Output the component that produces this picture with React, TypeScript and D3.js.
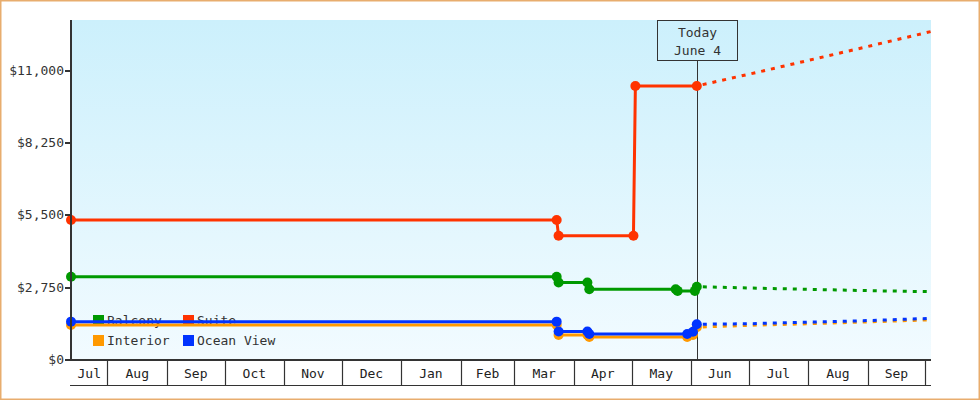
import React, { useRef, useEffect } from "react";
import * as d3 from "d3";

const width = 980;
const height = 400;
const margin = { top: 20, right: 49, bottom: 40, left: 71 };
const font = "'DejaVu Sans Mono', 'Liberation Mono', monospace";

const domainStart = "2022-07-13";
const domainEnd = "2023-10-04";
const todayDate = "2023-06-04";
const todayLabel = ["Today", "June 4"];

const yTicks = [0, 2750, 5500, 8250, 11000];
const yMax = 12940;

const seriesNames = ["Balcony", "Suite", "Interior", "Ocean View"];
const seriesColors = ["#009900", "#ff3300", "#ff9900", "#0033ff"];

// price history (solid)
const suiteDates = ["2022-07-13", "2023-03-23", "2023-03-24", "2023-05-02", "2023-05-03", "2023-06-04"];
const suiteValues = [5330, 5330, 4730, 4730, 10430, 10430];

const balconyDates = ["2022-07-13", "2023-03-23", "2023-03-24", "2023-04-08", "2023-04-09", "2023-05-24", "2023-05-25", "2023-06-03", "2023-06-04"];
const balconyValues = [3170, 3170, 2950, 2950, 2690, 2690, 2630, 2630, 2790];

const oceanDates = ["2022-07-13", "2023-03-23", "2023-03-24", "2023-04-08", "2023-04-09", "2023-05-30", "2023-06-02", "2023-06-04"];
const oceanValues = [1460, 1460, 1085, 1085, 990, 990, 1075, 1360];

const interiorDates = ["2022-07-13", "2023-03-23", "2023-03-24", "2023-04-08", "2023-04-09", "2023-05-30", "2023-06-02", "2023-06-04"];
const interiorValues = [1330, 1330, 950, 950, 875, 875, 950, 1250];

// forecast (dashed)
const forecastDates = ["2023-06-04", "2023-07-01", "2023-08-01", "2023-09-01", "2023-10-04"];
const suiteForecast = [10430, 10875, 11400, 11930, 12500];
const balconyForecast = [2790, 2740, 2690, 2640, 2600];
const interiorForecast = [1250, 1320, 1380, 1450, 1530];
const oceanForecast = [1360, 1380, 1440, 1500, 1585];

type Pt = { date: Date; value: number };

const parse = d3.timeParse("%Y-%m-%d");
const toPts = (dates: string[], values: number[]): Pt[] =>
  dates.map((d, i) => ({ date: parse(d) as Date, value: values[i] }));

const App: React.FC = () => {
  const svgRef = useRef<SVGSVGElement | null>(null);

  useEffect(() => {
    if (!svgRef.current) return;
    const svg = d3.select(svgRef.current);
    svg.selectAll("*").remove();

    const x0 = margin.left;
    const x1 = width - margin.right;
    const y0 = height - margin.bottom;
    const y1 = margin.top;

    const x = d3
      .scaleTime()
      .domain([parse(domainStart) as Date, parse(domainEnd) as Date])
      .range([x0, x1]);
    const y = d3.scaleLinear().domain([0, yMax]).range([y0, y1]);

    const defs = svg.append("defs");
    const grad = defs
      .append("linearGradient")
      .attr("id", "bg-grad")
      .attr("x1", 0)
      .attr("x2", 0)
      .attr("y1", 0)
      .attr("y2", 1);
    grad.append("stop").attr("offset", "0%").attr("stop-color", "#ccf0fc");
    grad.append("stop").attr("offset", "100%").attr("stop-color", "#f2fbff");
    defs
      .append("clipPath")
      .attr("id", "plot-clip")
      .append("rect")
      .attr("x", x0)
      .attr("y", y1)
      .attr("width", x1 - x0)
      .attr("height", y0 - y1);

    svg.append("rect").attr("width", width).attr("height", height).attr("fill", "#fff");

    svg
      .append("rect")
      .attr("x", x0)
      .attr("y", y1)
      .attr("width", x1 - x0)
      .attr("height", y0 - y1)
      .attr("fill", "url(#bg-grad)");

    // legend (sits under the lines)
    const legend = svg.append("g").attr("font-family", font).attr("font-size", 13);
    seriesNames.forEach((name, i) => {
      const col = i % 2;
      const row = Math.floor(i / 2);
      const lx = 93 + col * 90;
      const ly = 315 + row * 20;
      legend
        .append("rect")
        .attr("x", lx)
        .attr("y", ly)
        .attr("width", 11)
        .attr("height", 11)
        .attr("fill", seriesColors[i]);
      legend
        .append("text")
        .attr("x", lx + 14)
        .attr("y", ly + 10)
        .attr("fill", "#333")
        .text(name);
    });

    // today marker
    const tx = Math.round(x(parse(todayDate) as Date)) + 0.5;
    svg
      .append("line")
      .attr("x1", tx)
      .attr("x2", tx)
      .attr("y1", 60)
      .attr("y2", y0)
      .attr("stroke", "#333")
      .attr("stroke-width", 1);
    svg
      .append("rect")
      .attr("x", tx - 40)
      .attr("y", y1 + 0.5)
      .attr("width", 80)
      .attr("height", 40)
      .attr("fill", "none")
      .attr("stroke", "#333");
    todayLabel.forEach((t, i) => {
      svg
        .append("text")
        .attr("x", tx)
        .attr("y", 37 + i * 18)
        .attr("text-anchor", "middle")
        .attr("font-family", font)
        .attr("font-size", 13)
        .attr("fill", "#333")
        .text(t);
    });

    const line = d3
      .line<Pt>()
      .x((d) => x(d.date))
      .y((d) => y(d.value));

    const series = [
      { color: seriesColors[2], hist: toPts(interiorDates, interiorValues), fc: toPts(forecastDates, interiorForecast) },
      { color: seriesColors[3], hist: toPts(oceanDates, oceanValues), fc: toPts(forecastDates, oceanForecast) },
      { color: seriesColors[0], hist: toPts(balconyDates, balconyValues), fc: toPts(forecastDates, balconyForecast) },
      { color: seriesColors[1], hist: toPts(suiteDates, suiteValues), fc: toPts(forecastDates, suiteForecast) },
    ];

    const plot = svg.append("g").attr("clip-path", "url(#plot-clip)");
    series.forEach((s) => {
      plot
        .append("path")
        .datum(s.fc)
        .attr("fill", "none")
        .attr("stroke", s.color)
        .attr("stroke-width", 3)
        .attr("stroke-dasharray", "4,6")
        .attr("stroke-dashoffset", -6)
        .attr("d", line);
      plot
        .append("path")
        .datum(s.hist)
        .attr("fill", "none")
        .attr("stroke", s.color)
        .attr("stroke-width", 3)
        .attr("d", line);
    });
    series.forEach((s) => {
      svg
        .append("g")
        .selectAll("circle")
        .data(s.hist)
        .enter()
        .append("circle")
        .attr("cx", (d) => x(d.date))
        .attr("cy", (d) => y(d.value))
        .attr("r", 5)
        .attr("fill", s.color);
    });

    // y axis
    const yAxis = svg.append("g").attr("font-family", font).attr("font-size", 13);
    yAxis
      .append("line")
      .attr("x1", x0)
      .attr("x2", x0)
      .attr("y1", y1)
      .attr("y2", y0 + 1)
      .attr("stroke", "#333")
      .attr("stroke-width", 2);
    yTicks.forEach((t) => {
      const ty = Math.round(y(t));
      yAxis
        .append("line")
        .attr("x1", x0 - 6)
        .attr("x2", x0)
        .attr("y1", ty)
        .attr("y2", ty)
        .attr("stroke", "#333")
        .attr("stroke-width", 2);
      yAxis
        .append("text")
        .attr("x", x0 - 7)
        .attr("y", ty + 4)
        .attr("text-anchor", "end")
        .attr("fill", "#333")
        .text("$" + d3.format(",")(t));
    });

    // x axis: month bands
    const xAxis = svg.append("g").attr("font-family", font).attr("font-size", 13);
    xAxis
      .append("line")
      .attr("x1", x0 - 1)
      .attr("x2", x1)
      .attr("y1", y0)
      .attr("y2", y0)
      .attr("stroke", "#333")
      .attr("stroke-width", 2);
    xAxis
      .append("line")
      .attr("x1", x0 - 1)
      .attr("x2", x1)
      .attr("y1", y0 + 25.5)
      .attr("y2", y0 + 25.5)
      .attr("stroke", "#333")
      .attr("stroke-width", 1);
    const [dStart, dEnd] = x.domain();
    const bounds = d3.timeMonth.range(d3.timeMonth.ceil(dStart), dEnd);
    bounds.forEach((b) => {
      const bx = Math.round(x(b)) + 0.5;
      xAxis
        .append("line")
        .attr("x1", bx)
        .attr("x2", bx)
        .attr("y1", y0)
        .attr("y2", y0 + 25)
        .attr("stroke", "#333")
        .attr("stroke-width", 1.2);
    });
    const edges = [dStart, ...bounds, dEnd];
    for (let i = 0; i < edges.length - 1; i++) {
      const a = x(edges[i]);
      const b = x(edges[i + 1]);
      if (b - a < 24) continue;
      const monthStart = d3.timeMonth.floor(edges[i]);
      xAxis
        .append("text")
        .attr("x", (a + b) / 2)
        .attr("y", y0 + 18)
        .attr("text-anchor", "middle")
        .attr("fill", "#222")
        .text(d3.timeFormat("%b")(monthStart));
    }

    // outer border
    svg
      .append("rect")
      .attr("x", 0.75)
      .attr("y", 0.75)
      .attr("width", width - 1.5)
      .attr("height", height - 1.5)
      .attr("fill", "none")
      .attr("stroke", "#e8ad6e")
      .attr("stroke-width", 1.5);
  }, []);

  return (
    <svg
      ref={svgRef}
      width={width}
      height={height}
      style={{ position: "absolute", left: 0, top: 0, display: "block" }}
    />
  );
};

export default App;
